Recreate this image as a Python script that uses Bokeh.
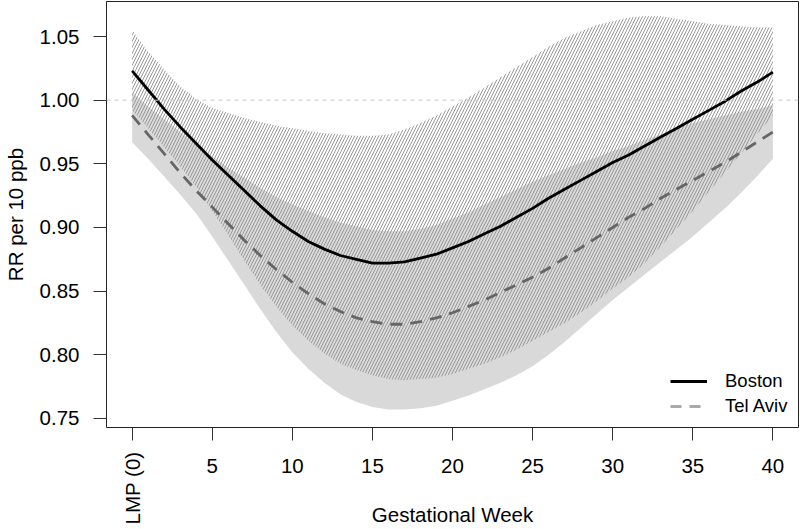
import math
from bokeh.plotting import figure
from bokeh.models import Range1d, FixedTicker, Span, Legend, LegendItem, LinearAxis
from bokeh.embed import file_html
from bokeh.resources import INLINE

# ---- data ----
weeks = [0, 1, 2, 3, 4, 5, 6, 7, 8, 9, 10, 11, 12, 13, 14, 15, 16, 17, 18, 19, 20,
         21, 22, 23, 24, 25, 26, 27, 28, 29, 30, 31, 32, 33, 34, 35, 36, 37, 38, 39, 40]

boston_rr = [1.023, 1.008, 0.993, 0.979, 0.966, 0.953, 0.941, 0.929, 0.917, 0.906, 0.897,
             0.889, 0.883, 0.878, 0.875, 0.872, 0.872, 0.873, 0.876, 0.879, 0.884,
             0.889, 0.895, 0.901, 0.908, 0.915, 0.923, 0.930, 0.937, 0.944, 0.951,
             0.957, 0.964, 0.971, 0.978, 0.985, 0.992, 0.999, 1.007, 1.014, 1.022]
boston_hi = [1.055, 1.038, 1.024, 1.011, 1.001, 0.994, 0.990, 0.986, 0.983, 0.980, 0.978,
             0.976, 0.974, 0.973, 0.972, 0.972, 0.973, 0.977, 0.982, 0.988, 0.995,
             1.002, 1.010, 1.018, 1.026, 1.034, 1.042, 1.049, 1.054, 1.059, 1.062,
             1.065, 1.066, 1.066, 1.064, 1.062, 1.060, 1.059, 1.058, 1.057, 1.057]
boston_lo = [0.992, 0.978, 0.963, 0.948, 0.932, 0.913, 0.894, 0.874, 0.855, 0.838, 0.823,
             0.811, 0.801, 0.793, 0.788, 0.784, 0.781, 0.780, 0.781, 0.782, 0.785,
             0.789, 0.793, 0.798, 0.804, 0.811, 0.818, 0.825, 0.833, 0.842, 0.852,
             0.861, 0.872, 0.885, 0.899, 0.913, 0.928, 0.943, 0.958, 0.973, 0.988]

telaviv_rr = [0.988, 0.973, 0.958, 0.943, 0.929, 0.916, 0.903, 0.890, 0.878, 0.867, 0.857,
              0.848, 0.840, 0.834, 0.829, 0.826, 0.824, 0.824, 0.826, 0.829, 0.833,
              0.838, 0.843, 0.849, 0.855, 0.861, 0.868, 0.876, 0.884, 0.892, 0.900,
              0.908, 0.915, 0.923, 0.930, 0.937, 0.944, 0.951, 0.959, 0.967, 0.975]
telaviv_hi = [1.006, 0.995, 0.985, 0.975, 0.965, 0.956, 0.947, 0.939, 0.931, 0.924, 0.918,
              0.913, 0.908, 0.904, 0.901, 0.898, 0.897, 0.897, 0.899, 0.902, 0.907,
              0.912, 0.918, 0.924, 0.930, 0.936, 0.941, 0.946, 0.951, 0.955, 0.960,
              0.964, 0.969, 0.973, 0.978, 0.982, 0.985, 0.988, 0.991, 0.993, 0.996]
telaviv_lo = [0.967, 0.954, 0.940, 0.926, 0.911, 0.893, 0.874, 0.855, 0.836, 0.818, 0.802,
              0.789, 0.778, 0.769, 0.763, 0.759, 0.757, 0.757, 0.758, 0.760, 0.764,
              0.768, 0.773, 0.778, 0.784, 0.791, 0.800, 0.810, 0.821, 0.832, 0.843,
              0.853, 0.863, 0.873, 0.883, 0.893, 0.904, 0.915, 0.927, 0.940, 0.954]

x_ticks = [0, 5, 10, 15, 20, 25, 30, 35, 40]
x_tick_labels = ["LMP (0)", "5", "10", "15", "20", "25", "30", "35", "40"]
y_ticks = [0.75, 0.80, 0.85, 0.90, 0.95, 1.00, 1.05]
y_tick_labels = ["0.75", "0.80", "0.85", "0.90", "0.95", "1.00", "1.05"]
series_names = ["Boston", "Tel Aviv"]
reference_value = 1.0

FONT = "Liberation Sans"
FS = "20.5px"

p = figure(width=800, height=529,
           x_range=Range1d(-1.6, 41.6), y_range=Range1d(0.7429, 1.0775),
           output_backend="svg", toolbar_location=None,
           min_border_left=99, min_border_right=2, min_border_top=1, min_border_bottom=102)
p.styles = {"position": "absolute", "left": "0px", "top": "0px"}
p.grid.visible = False
p.outline_line_color = "#222222"
p.outline_line_width = 1
p.background_fill_color = "white"
p.border_fill_color = "white"

# Tel Aviv CI band: solid light gray
p.varea(x=weeks, y1=telaviv_lo, y2=telaviv_hi, fill_color="#d9d9d9", fill_alpha=1.0)
# Boston CI band: hatched
p.varea(x=weeks, y1=boston_lo, y2=boston_hi, fill_color=None, fill_alpha=0,
        hatch_pattern="/", hatch_color="#999999", hatch_weight=1, hatch_scale=6)

p.add_layout(Span(location=reference_value, dimension="width", line_color="#c8c8c8",
                  line_dash="4 4", line_width=1))

p.line(weeks, boston_rr, line_color="black", line_width=2.8)
p.line(weeks, telaviv_rr, line_color="#666666", line_width=2.8, line_dash="12 8")

# legend-only renderers (no visible data)
nan = float("nan")
leg_b = p.line([nan], [nan], line_color="black", line_width=2.8)
leg_t = p.line([nan], [nan], line_color="#aaaaaa", line_width=2.8, line_dash="11 8")
legend = Legend(items=[LegendItem(label=series_names[0], renderers=[leg_b]),
                       LegendItem(label=series_names[1], renderers=[leg_t])],
                location=(564, 10), border_line_color=None, background_fill_alpha=0,
                label_text_font=FONT, label_text_font_size="18.5px", label_text_color="black",
                glyph_width=37, glyph_height=20, label_height=20, label_standoff=18,
                spacing=3, padding=0, margin=0)
p.add_layout(legend)

def style_axis(ax):
    ax.axis_line_color = None
    ax.minor_tick_line_color = None
    ax.major_tick_in = 0
    ax.major_label_text_font = FONT
    ax.major_label_text_font_size = FS
    ax.major_label_text_color = "black"
    ax.axis_label_text_font = FONT
    ax.axis_label_text_font_size = FS
    ax.axis_label_text_font_style = "normal"
    ax.axis_label_text_color = "black"

# main x axis: ticks and horizontal labels
xa = p.xaxis[0]
style_axis(xa)
xa.ticker = FixedTicker(ticks=x_ticks)
xa.major_label_overrides = {t: (lab if i > 0 else "") for i, (t, lab) in enumerate(zip(x_ticks, x_tick_labels))}
xa.major_tick_out = 13
xa.major_tick_line_color = "#333333"
xa.major_label_standoff = 18

# y axis
ya = p.yaxis[0]
style_axis(ya)
ya.ticker = FixedTicker(ticks=y_ticks)
ya.major_label_overrides = {t: lab for t, lab in zip(y_ticks, y_tick_labels)}
ya.major_tick_out = 13
ya.major_tick_line_color = "#333333"
ya.major_label_standoff = 14
ya.axis_label = "RR per 10 ppb"
ya.axis_label_standoff = 10

# second x axis: the rotated "LMP (0)" label and the axis title
xb = LinearAxis(ticker=FixedTicker(ticks=[x_ticks[0]]),
                major_label_overrides={x_ticks[0]: x_tick_labels[0]},
                major_label_orientation=math.pi / 2)
style_axis(xb)
xb.major_tick_out = 0
xb.major_tick_line_color = None
xb.major_label_standoff = -24
xb.axis_label = "Gestational Week"
xb.axis_label_standoff = -24
p.add_layout(xb, "below")

open("out.html", "w").write(file_html(p, INLINE))
